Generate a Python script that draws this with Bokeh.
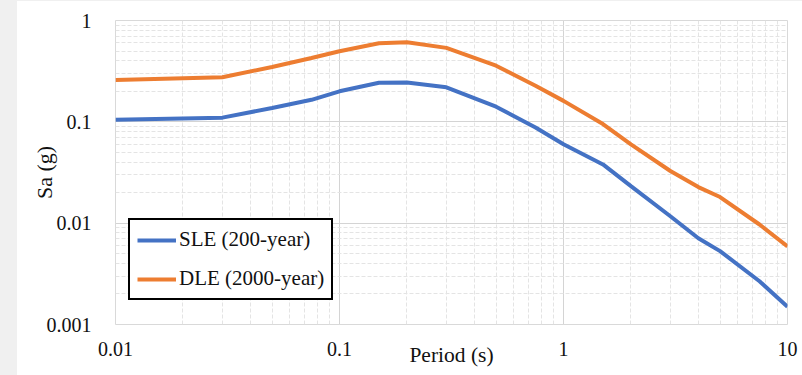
from bokeh.plotting import figure
from bokeh.models import Legend, LegendItem, Div, LogTicker, CustomJSTickFormatter
from bokeh.layouts import row, column
from bokeh.embed import file_html
from bokeh.resources import INLINE

# Spectral periods (s)
period = [0.01, 0.03, 0.05, 0.075, 0.1, 0.15, 0.2, 0.3, 0.5, 0.75,
          1.0, 1.5, 2.0, 3.0, 4.0, 5.0, 7.5, 10.0]

# Spectral acceleration (g)
sle_200 = [0.105, 0.110, 0.137, 0.165, 0.200, 0.243, 0.245, 0.219, 0.141, 0.088,
           0.060, 0.038, 0.0232, 0.0117, 0.0071, 0.0053, 0.00267, 0.0015]
dle_2000 = [0.259, 0.275, 0.348, 0.427, 0.497, 0.596, 0.610, 0.537, 0.358, 0.227,
            0.161, 0.095, 0.060, 0.0327, 0.0227, 0.0181, 0.0097, 0.0059]

x_range = (0.01, 10)
y_range = (0.001, 1)

SERIF = "'Liberation Serif', 'Times New Roman', serif"
BLUE = "#4472C4"
ORANGE = "#ED7D31"
TEXT = "#111111"

p = figure(width=785, height=374, x_axis_type="log", y_axis_type="log",
           x_range=x_range, y_range=y_range,
           output_backend="svg", toolbar_location=None,
           min_border_left=98, min_border_right=15,
           min_border_top=19, min_border_bottom=51,
           background_fill_color="white", border_fill_color="white",
           outline_line_color="#d9d9d9", outline_line_width=1, margin=0)

# plain decimal labels (0.01, 0.1, 1, 10) instead of powers of ten
plain = CustomJSTickFormatter(code="return String(Number(tick.toPrecision(3)));")

for ax in (p.xaxis[0], p.yaxis[0]):
    ax.ticker = LogTicker(num_minor_ticks=10)
    ax.formatter = plain
    ax.axis_line_color = None
    ax.major_tick_line_color = None
    ax.minor_tick_line_color = None
    ax.major_label_text_font = SERIF
    ax.major_label_text_font_size = "20px"
    ax.major_label_text_color = TEXT
    ax.axis_label_text_font = SERIF
    ax.axis_label_text_font_style = "normal"
    ax.axis_label_text_color = TEXT

p.xaxis[0].major_label_standoff = 11
p.yaxis[0].major_label_standoff = 18

# axis titles sit tight against the tick labels
p.xaxis[0].axis_label = "Period (s)"
p.xaxis[0].axis_label_text_font_size = "21.5px"
p.xaxis[0].axis_label_standoff = -16
p.yaxis[0].axis_label = "Sa (g)"
p.yaxis[0].axis_label_text_font_size = "22px"
p.yaxis[0].axis_label_standoff = -13

for g in (p.xgrid[0], p.ygrid[0]):
    g.grid_line_color = "#d4d4d4"
    g.grid_line_width = 1
    g.minor_grid_line_color = "#e4e4e4"
    g.minor_grid_line_width = 1
    g.minor_grid_line_dash = "4 2"

r_sle = p.line(period, sle_200, line_color=BLUE, line_width=4)
r_dle = p.line(period, dle_2000, line_color=ORANGE, line_width=4)

legend = Legend(items=[LegendItem(label="SLE (200-year)", renderers=[r_sle]),
                       LegendItem(label="DLE (2000-year)", renderers=[r_dle])],
                location=(13, 24), orientation="vertical",
                label_text_font=SERIF, label_text_font_size="21px",
                label_text_color=TEXT,
                glyph_width=39, glyph_height=24, label_height=24,
                label_standoff=3, spacing=14, padding=7, margin=0,
                border_line_color="black", border_line_width=2,
                border_line_alpha=1.0,
                background_fill_color="white", background_fill_alpha=1)
p.add_layout(legend, "center")

top_strip = Div(width=802, height=1, margin=0, styles={"background-color": "#f0f0f0"})
left_strip = Div(width=17, height=374, margin=0, styles={"background-color": "#f0f0f0"})
page = column(top_strip, row(left_strip, p, spacing=0, margin=0), spacing=0, margin=0)

open("out.html", "w").write(file_html(page, INLINE))
